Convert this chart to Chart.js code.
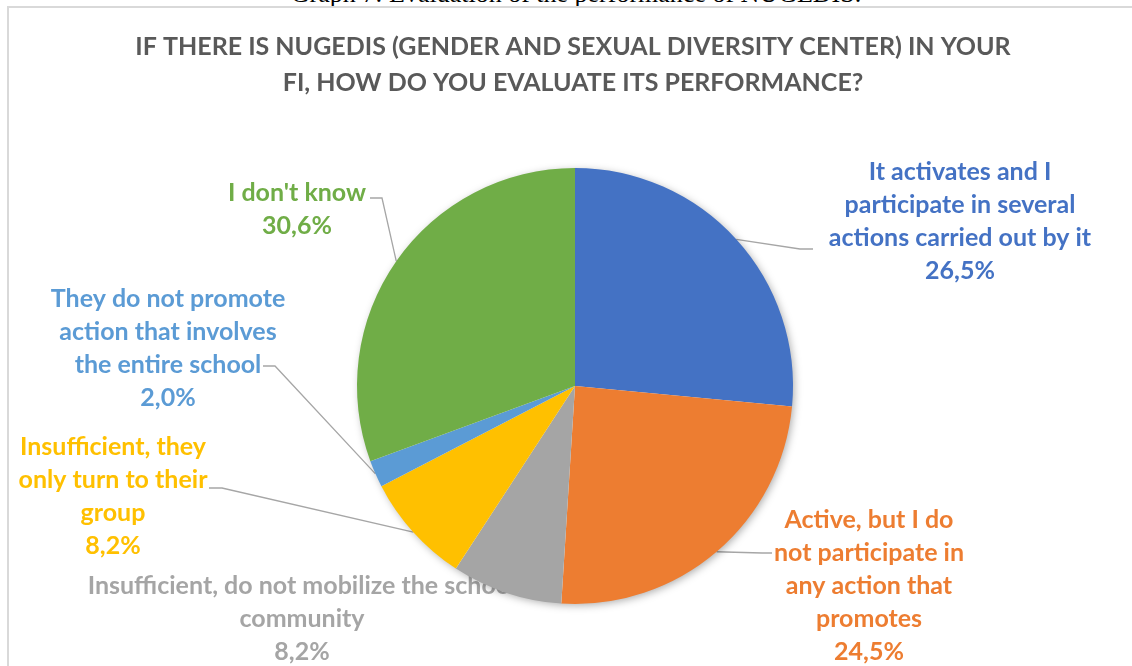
<!DOCTYPE html>
<html>
<head>
<meta charset="utf-8">
<script src="https://cdn.jsdelivr.net/npm/chart.js@4"></script>
<style>
  html, body { margin: 0; padding: 0; background: #fff; overflow: hidden; }
  #wrap { position: relative; width: 1132px; height: 666px; }
  #caption {
    position: absolute; left: 0; width: 1152px; top: -21px; text-align: center;
    font-family: "Liberation Serif", "DejaVu Serif", serif; font-size: 26px; color: #000;
  }
  #frame {
    position: absolute; left: 7px; top: 6px; width: 1140px; height: 700px;
    border: 2px solid #d9d9d9; box-sizing: border-box;
  }
  canvas { position: absolute; left: 0; top: 0; }
</style>
</head>
<body>
<div id="wrap">
  <div id="caption">Graph 7: Evaluation of the performance of NUGEDIS.</div>
  <div id="frame"></div>
  <canvas id="chart-nugedis" width="1132" height="666"></canvas>
</div>
<script>
// ── Data ─────────────────────────────────────────────────────────────
const titleLines = [
  'IF THERE IS NUGEDIS (GENDER AND SEXUAL DIVERSITY CENTER) IN YOUR',
  'FI, HOW DO YOU EVALUATE ITS PERFORMANCE?',
];
const labels = [
  ['It activates and I', 'participate in several', 'actions carried out by it'],
  ['Active, but I do', 'not participate in', 'any action that', 'promotes'],
  ['Insufficient, do not mobilize the school', 'community'],
  ['Insufficient, they', 'only turn to their', 'group'],
  ['They do not promote', 'action that involves', 'the entire school'],
  ["I don't know"],
];
const percentages = [26.5, 24.5, 8.2, 8.2, 2.0, 30.6];
const sliceColors = ['#4472C4', '#ED7D31', '#A5A5A5', '#FFC000', '#5B9BD5', '#70AD47'];

// label placement relative to the pie centre (Excel moved these by hand)
const labelLayout = [
  { dx: 385, dy: -165, leader: [[225, -137], [238, -137]] },
  { dx: 294, dy: 200, leader: [[187, 167], [197, 167]] },
  { dx: -273, dy: 233, leader: null },
  { dx: -462, dy: 110, leader: [[-353, 102], [-366, 102]] },
  { dx: -407, dy: -38, leader: [[-300, -20], [-312, -20]] },
  { dx: -278, dy: -177, leader: [[-193, -188], [-205, -188]] },
];

const FONT = 'Lato, "Open Sans", sans-serif';

const fmtPct = v => v.toFixed(1).replace('.', ',') + '%';

// title, shadow under the pie, outside labels with leader lines
const pieExtras = {
  id: 'pieExtras',
  beforeDatasetsDraw(chart) {
    const ctx = chart.ctx;
    const meta = chart.getDatasetMeta(0);
    const first = meta.data[0];
    if (!first) return;
    const cx = first.x, cy = first.y, r = first.outerRadius;

    ctx.save();
    ctx.textAlign = 'center';
    ctx.textBaseline = 'middle';

    // title (drawn by hand so it is not squeezed into the pie width)
    ctx.font = 'bold 25px ' + FONT;
    ctx.fillStyle = '#595959';
    titleLines.forEach((t, k) => ctx.fillText(t, cx - 2, 47 + k * 36));

    // labels first: the pie overlaps the grey one
    ctx.font = 'bold 25px ' + FONT;
    const lineH = 33;
    meta.data.forEach((arc, i) => {
      const lay = labelLayout[i];
      const lines = labels[i].concat([fmtPct(percentages[i])]);
      const top = cy + lay.dy - (lines.length - 1) * lineH / 2;
      ctx.fillStyle = sliceColors[i];
      lines.forEach((t, k) => ctx.fillText(t, cx + lay.dx, top + k * lineH));

      if (lay.leader) {
        const mid = (arc.startAngle + arc.endAngle) / 2;
        ctx.beginPath();
        ctx.strokeStyle = '#a6a6a6';
        ctx.lineWidth = 1.3;
        ctx.moveTo(cx + Math.cos(mid) * r, cy + Math.sin(mid) * r);
        lay.leader.forEach(p => ctx.lineTo(cx + p[0], cy + p[1]));
        ctx.stroke();
      }
    });
    ctx.restore();

    // soft shadow
    ctx.save();
    ctx.shadowColor = 'rgba(0,0,0,0.35)';
    ctx.shadowBlur = 8;
    ctx.shadowOffsetX = 2;
    ctx.shadowOffsetY = 2;
    ctx.fillStyle = '#ffffff';
    ctx.beginPath();
    ctx.arc(cx, cy, r - 1, 0, Math.PI * 2);
    ctx.fill();
    ctx.restore();
  },
};

document.addEventListener('DOMContentLoaded', function () {
  const el = document.getElementById('chart-nugedis');
  new Chart(el, {
    type: 'pie',
    data: {
      labels: labels.map(l => l.join(' ')),
      datasets: [{
        data: percentages,
        backgroundColor: sliceColors,
        borderWidth: 0,
      }],
    },
    options: {
      responsive: false,
      animation: false,
      layout: { padding: { top: 168, bottom: 62, left: 357, right: 339 } },
      plugins: {
        legend: { display: false },
        tooltip: { enabled: false },
        title: { display: false },
      },
    },
    plugins: [pieExtras],
  });
});
</script>
</body>
</html>
